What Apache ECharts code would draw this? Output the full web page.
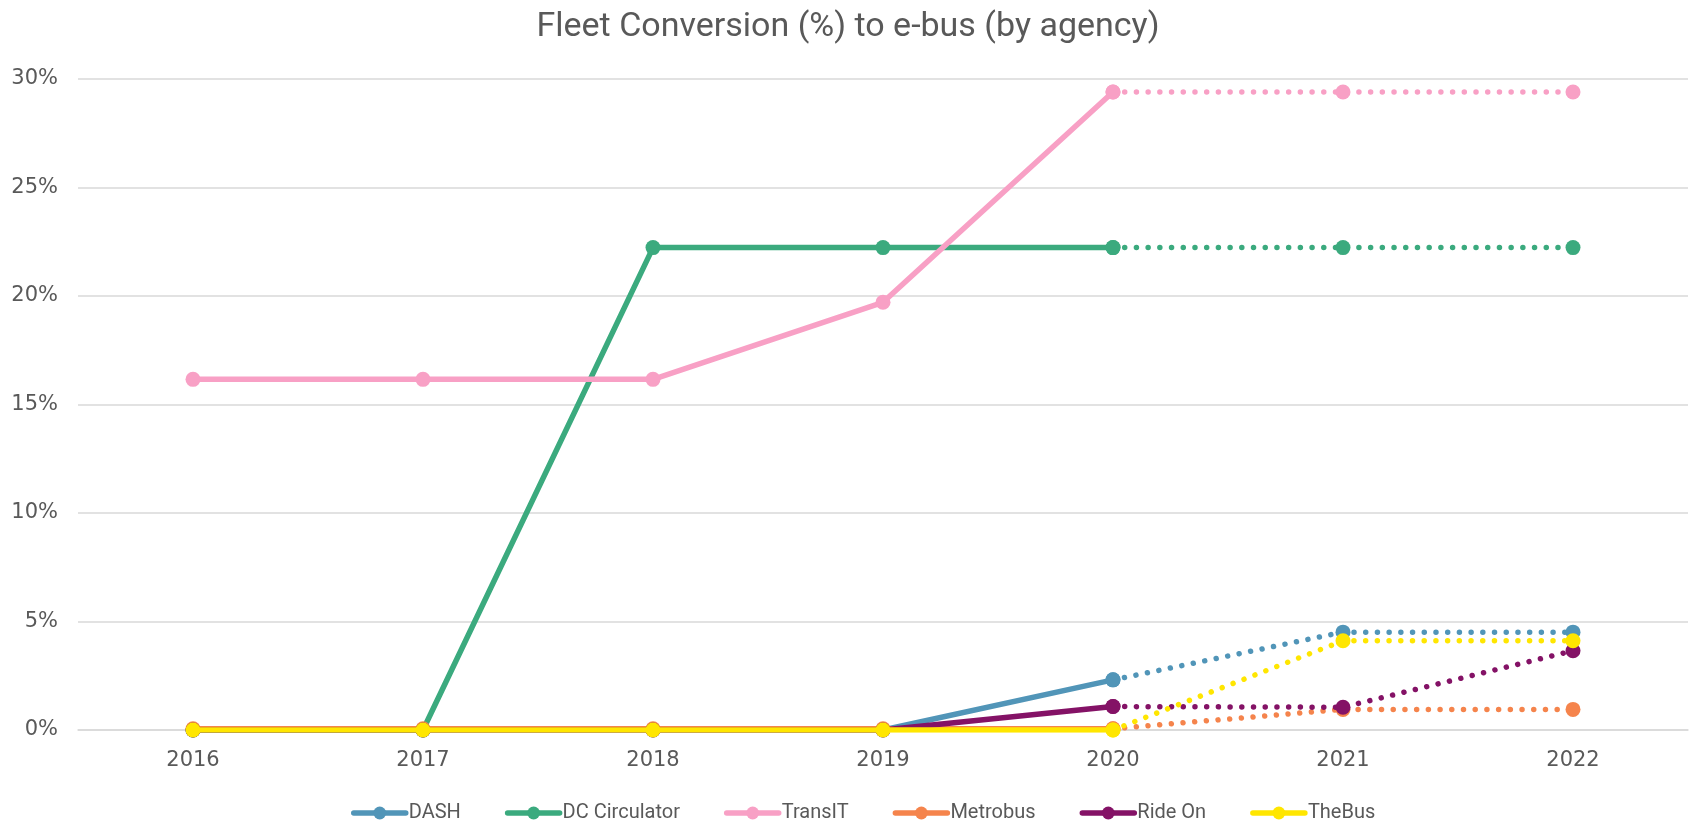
<!DOCTYPE html>
<html>
<head>
<meta charset="utf-8">
<script src="https://cdn.jsdelivr.net/npm/echarts@6/dist/echarts.min.js"></script>
<style>
html,body{margin:0;padding:0;background:#fff;}
#chart{width:1696px;height:822px;}
</style>
</head>
<body>
<div id="chart"></div>
<script>
var years = ['2016','2017','2018','2019','2020','2021','2022'];
var agencies = ['DASH','DC Circulator','TransIT','Metrobus','Ride On','TheBus'];
var dash = [0, 0, 0, 0, 2.31, 4.51, 4.51];
var dcCirculator = [0, 0, 22.23, 22.23, 22.23, 22.23, 22.23];
var transIT = [16.16, 16.16, 16.16, 19.71, 29.4, 29.4, 29.4];
var metrobus = [0.06, 0.06, 0.06, 0.06, 0.06, 0.95, 0.95];
var rideOn = [0, 0, 0, 0, 1.08, 1.05, 3.65];
var theBus = [0, 0, 0, 0, 0, 4.11, 4.11];
var yTicks = [0, 5, 10, 15, 20, 25, 30];
var lastActualIndex = 4; // 2020: later years are shown dotted

var colors = ['#5195B8', '#3BAA7E', '#F8A0C5', '#F5844C', '#841266', '#FFE600'];
var values = [dash, dcCirculator, transIT, metrobus, rideOn, theBus];

var series = [];
agencies.forEach(function (name, k) {
  var vals = values[k];
  var solid = vals.map(function (v, i) { return i <= lastActualIndex ? v : null; });
  var dotted = vals.map(function (v, i) { return i >= lastActualIndex ? v : null; });
  series.push({
    name: name, type: 'line', data: solid,
    symbol: 'circle', symbolSize: 15, showAllSymbol: true,
    itemStyle: { color: colors[k] },
    lineStyle: { color: colors[k], width: 5.5, cap: 'round', join: 'round' },
    z: 2 + k, animation: false
  });
  series.push({
    name: name, type: 'line', data: dotted,
    symbol: 'circle', symbolSize: 15, showAllSymbol: true,
    itemStyle: { color: colors[k] },
    lineStyle: { color: colors[k], width: 5.5, type: [0.01, 11.7], cap: 'round' },
    z: 2 + k, animation: false
  });
});

var chart = echarts.init(document.getElementById('chart'), null, { renderer: 'canvas' });
chart.setOption({
  backgroundColor: '#ffffff',
  animation: false,
  title: {
    text: 'Fleet Conversion (%) to e-bus (by agency)',
    left: 'center', top: 5,
    textStyle: { fontFamily: 'Roboto', fontSize: 34, fontWeight: 'normal', color: '#595959' }
  },
  legend: {
    data: agencies,
    top: 798, left: 346,
    itemWidth: 52, itemHeight: 16, itemGap: 44,
    lineStyle: { width: 5.5 },
    textStyle: { fontFamily: 'Roboto', fontSize: 20, color: '#595959', padding: [0, 0, 0, -2] }
  },
  grid: { left: 78, right: 8, top: 79, bottom: 92, containLabel: false },
  xAxis: {
    type: 'category', data: years, boundaryGap: true,
    axisLine: { show: true, lineStyle: { color: '#d9d9d9', width: 1.5 } },
    axisTick: { show: false },
    axisLabel: { margin: 20, fontFamily: 'DejaVu Sans', fontSize: 21, color: '#595959' }
  },
  yAxis: {
    type: 'value', min: yTicks[0], max: yTicks[yTicks.length - 1], interval: yTicks[1] - yTicks[0],
    axisLine: { show: false }, axisTick: { show: false },
    splitLine: { lineStyle: { color: '#d9d9d9', width: 1.5 } },
    axisLabel: { formatter: '{value}%', margin: 20, fontFamily: 'DejaVu Sans', fontSize: 21, color: '#595959' }
  },
  series: series
});
</script>
</body>
</html>
